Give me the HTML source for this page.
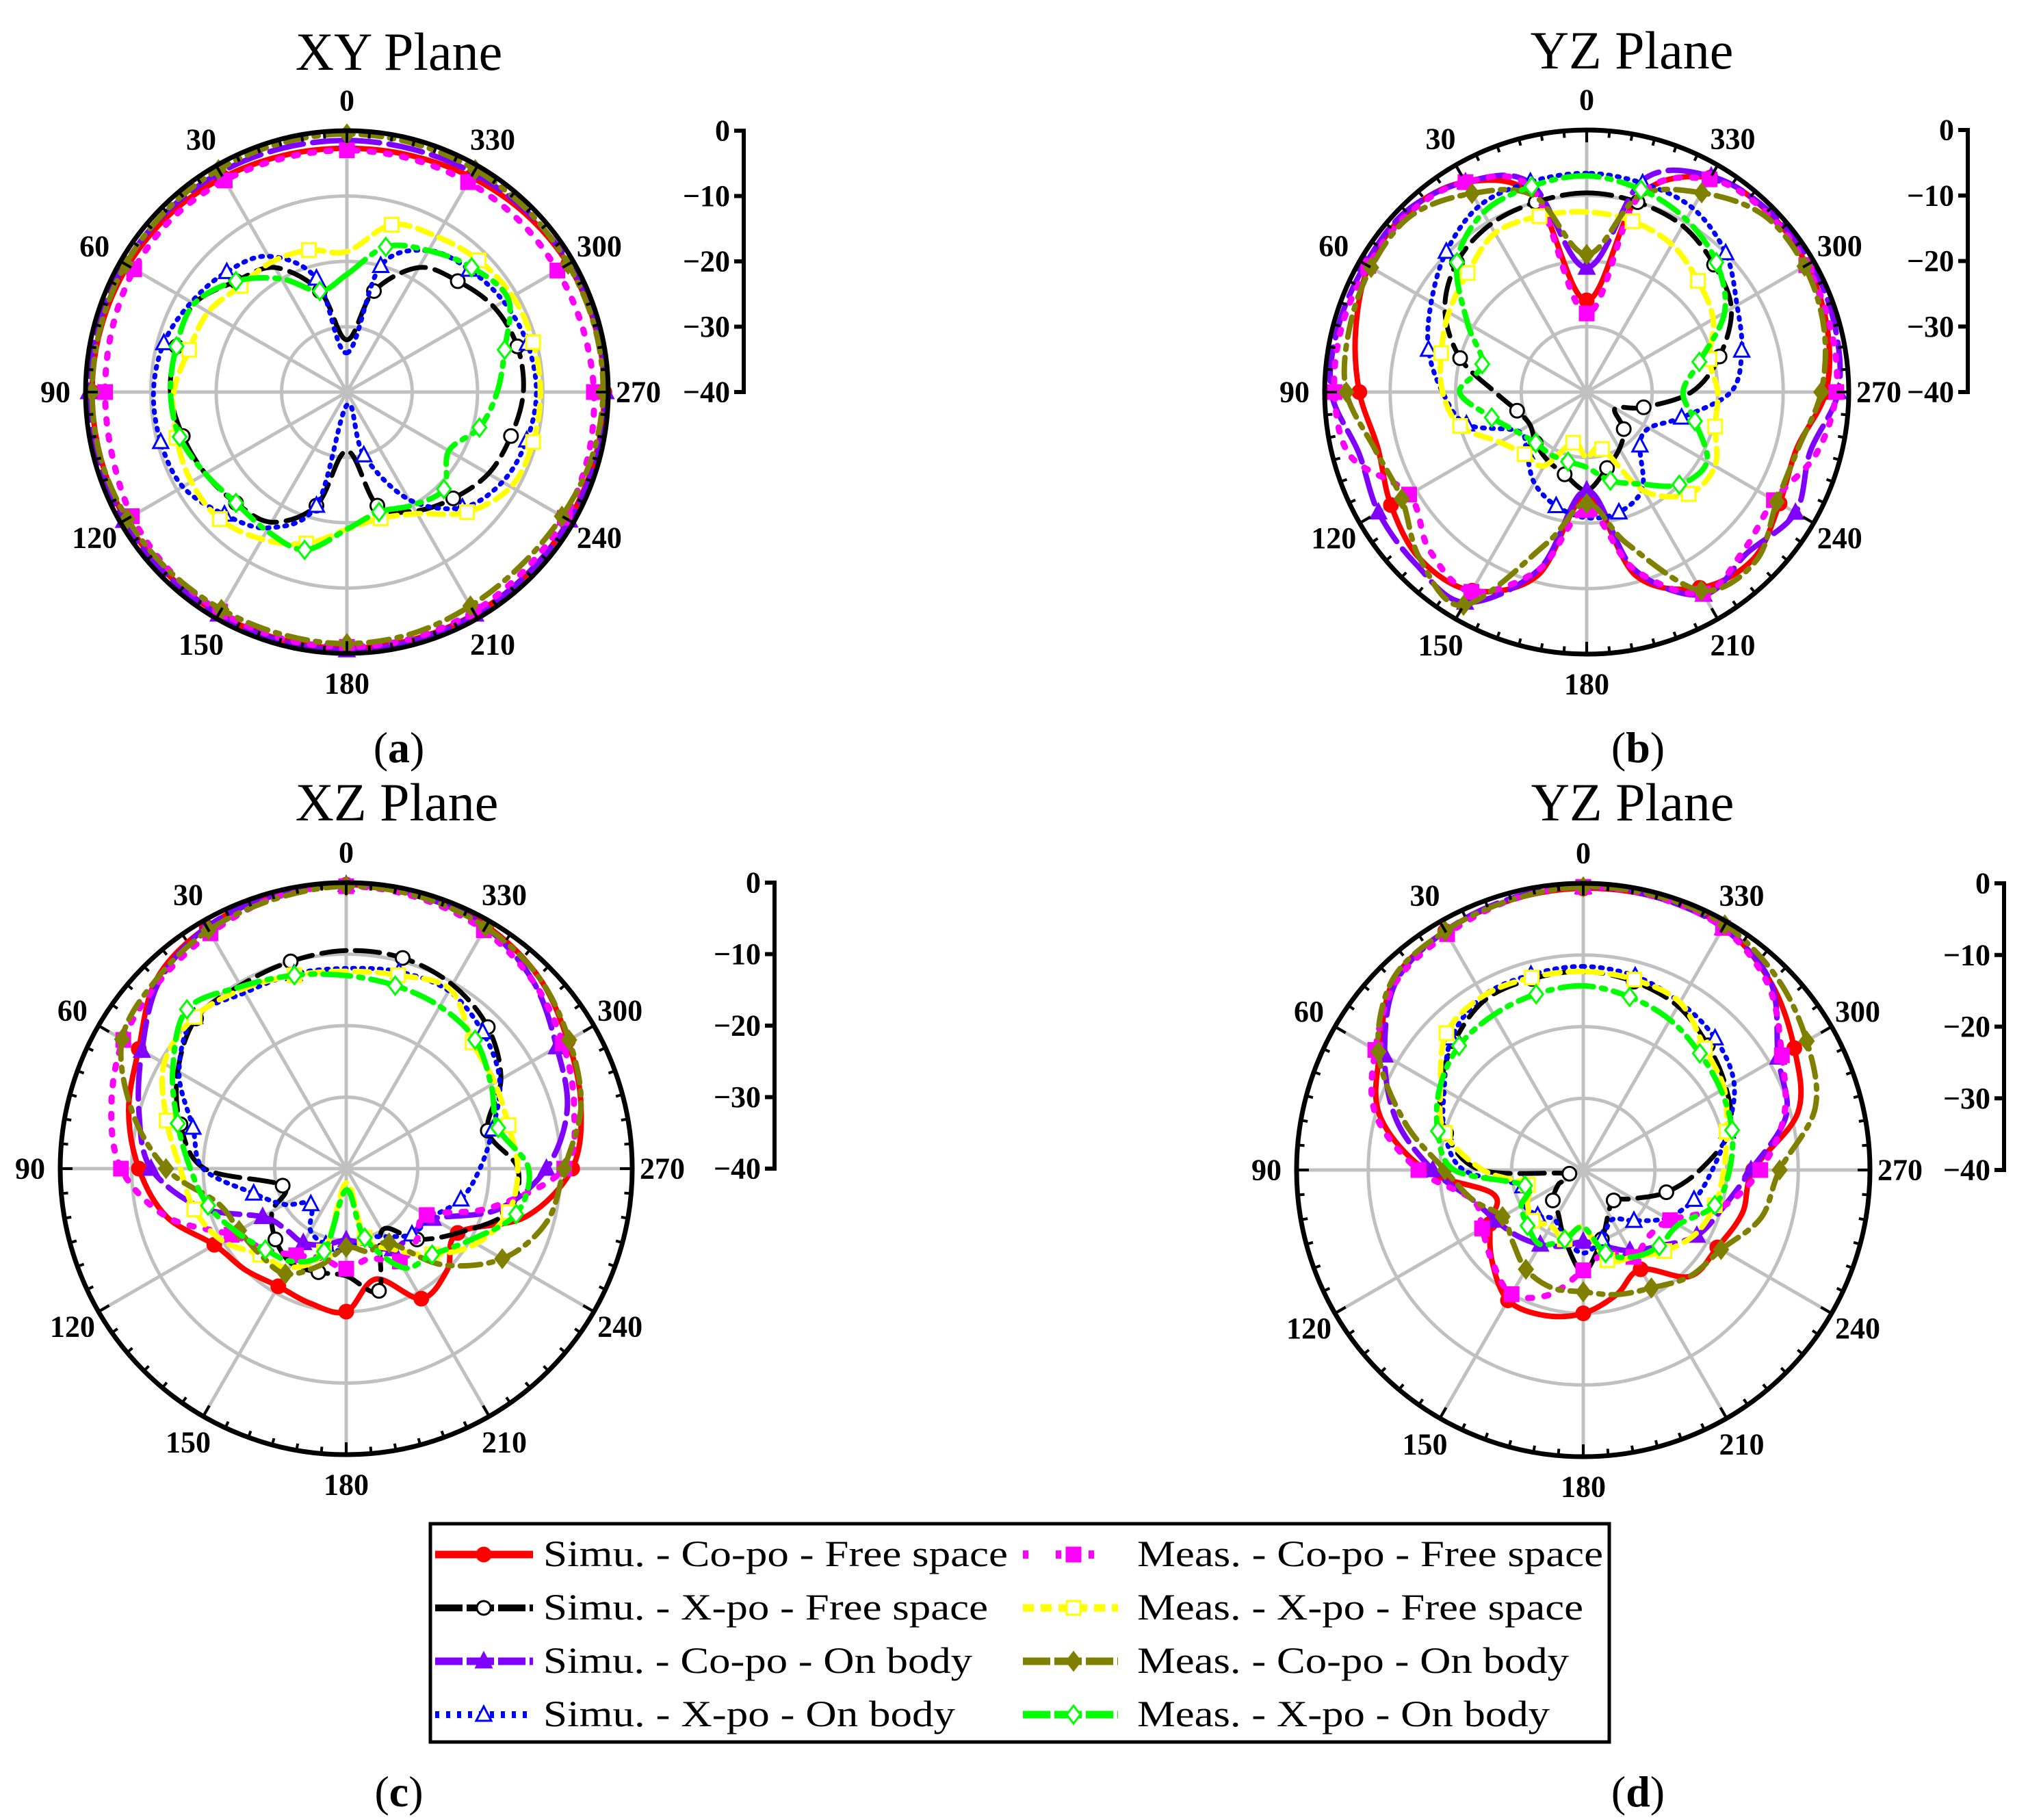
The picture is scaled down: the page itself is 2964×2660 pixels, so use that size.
<!DOCTYPE html>
<html><head><meta charset="utf-8"><style>
html,body{margin:0;padding:0;background:#fff;}
svg{display:block;}
text{font-family:"Liberation Serif",serif;}
</style></head><body>
<svg id="fig" width="2964" height="2660" viewBox="0 0 2964 2660" xmlns="http://www.w3.org/2000/svg">
<rect x="0" y="0" width="2964" height="2660" fill="#fff"/>
<g id="panels"></g>
<g id="legend">
<rect x="629" y="2227" width="1723" height="319" fill="#fff" stroke="#000" stroke-width="5"/>
</g>
</svg>
<script>
// ---- data (dB, every 15 degrees starting at 0, CCW from top) ----
const angles = [0,15,30,45,60,75,90,105,120,135,150,165,180,195,210,225,240,255,270,285,300,315,330,345];
const ringTicks = [0,-10,-20,-30,-40];
const angleLabels = [0,30,60,90,120,150,180,210,240,270,300,330];
const seriesNames = ["Simu. - Co-po - Free space","Simu. - X-po - Free space","Simu. - Co-po - On body","Simu. - X-po - On body","Meas. - Co-po - Free space","Meas. - X-po - Free space","Meas. - Co-po - On body","Meas. - X-po - On body"];
const panelTitles = ["XY Plane","YZ Plane","XZ Plane","YZ Plane"];
const panelLetters = ["a","b","c","d"];

// Panel (a) XY
const aSimCoFree = [-2.7,-2.5,-2.1,-1.6,-1.3,-1.1,-1.0,-1.0,-0.9,-0.9,-0.8,-0.8,-0.8,-0.8,-0.8,-0.8,-0.8,-0.7,-0.6,-0.7,-0.9,-1.4,-2.0,-2.5];
const aSimXFree = [-32,-24,-18,-16,-13,-13,-13,-14,-15,-16,-17,-22,-31,-22,-19,-17,-15,-14,-13,-13,-14,-16,-18,-24];
const aSimCoBody = [-1.5,-1.4,-1.2,-1,-0.8,-0.6,-0.5,-0.5,-0.6,-0.7,-0.7,-0.6,-0.5,-0.6,-0.7,-0.8,-0.7,-0.5,-0.4,-0.5,-0.7,-1,-1.3,-1.5];
const aSimXBody = [-34,-22,-16,-14,-12.5,-11,-10.4,-10.5,-11,-13.5,-16,-22,-38,-30,-21,-15,-12.5,-11.5,-11,-11.4,-12.3,-13.5,-15,-20];
const aMeasCoFree = [-3,-2.9,-2.6,-2.3,-2.4,-2.8,-3,-2.8,-2,-1.5,-1.2,-1,-1,-1,-1.2,-1.5,-1.5,-1.8,-2.2,-2.6,-2.8,-2.8,-2.9,-3];
const aMeasXFree = [-18.5,-17.5,-17,-17,-15.5,-15,-13.5,-13,-12.5,-12.5,-14,-16,-19,-20,-18.5,-14,-11,-10.5,-10.4,-10.5,-10.7,-11.5,-12.5,-13.5];
const aMeasCoBody = [-0.5,-0.6,-0.7,-0.8,-0.9,-1,-1,-1,-1.2,-1.4,-1.6,-1.6,-1.5,-1.7,-2.2,-2.4,-2,-1.2,-0.8,-0.8,-0.9,-0.8,-0.7,-0.6];
const aMeasXBody = [-22,-24,-20,-16,-13,-13,-13,-13.5,-15,-16,-15.5,-15,-19,-21,-20,-19,-22,-19,-17,-15,-11.5,-13,-15,-17];

// Panel (b) YZ
const bSimCoFree = [-26,-9,-3,-1.2,-1.6,-3.5,-5.3,-7,-5.5,-4,-5,-11,-24,-11,-5.5,-4,-6,-6.8,-3.5,-2,-1.2,-1,-2.2,-9];
const bSimXFree = [-9.6,-10,-10.5,-12,-15,-20,-26,-29,-30,-29,-28,-27,-25,-28,-30,-32,-35,-31,-24,-19,-14.5,-12.5,-10.7,-10];
const bSimCoBody = [-21,-7,-3,-1,-1,-0.8,-1,-4,-3.3,-3,-2.9,-12,-25,-12,-4.3,-5.3,-3.2,-4.7,-1.6,-0.8,-0.5,-0.8,-2,-6.4];
const bSimXBody = [-6.6,-6.8,-7.2,-9.7,-12.6,-15,-18,-21,-28,-27,-24,-22,-20.8,-21,-23,-28.5,-29,-25,-18,-15.5,-13.5,-10,-7.6,-7];
const bMeasCoFree = [-28,-8,-3,-1.5,-1.5,-1.3,-1.5,-2.6,-8.7,-6,-4.8,-12,-22,-12,-4.5,-6,-7,-3.7,-1.9,-1.5,-1.3,-1.2,-2.5,-9];
const bMeasXFree = [-12.5,-12.2,-12,-14.3,-15.7,-17,-18,-20,-24.7,-26.6,-27,-32,-30,-31,-22.6,-18,-17.4,-19.7,-20,-20.6,-17.7,-16,-14,-13];
const bMeasCoBody = [-19,-9,-5,-2,-2,-2.5,-3.3,-6.5,-7.4,-4,-2.4,-16,-23,-16,-5,-3.5,-6.5,-6.6,-4.2,-2.5,-1.6,-1.8,-4.9,-9];
const bMeasXBody = [-7,-7.5,-8.4,-12,-19,-23.5,-20.6,-25,-27.8,-29,-29,-29,-28.5,-26,-23.8,-20,-18.8,-22.9,-25.3,-22.2,-15.7,-12,-9.6,-8];

// Panel (c) XZ
const cSimCoFree = [-0.3,-0.5,-1,-2.5,-6.5,-8.5,-11,-14,-18.7,-20,-21,-20.5,-20,-24,-19,-20,-22,-14,-8.4,-6,-4.2,-2,-0.8,-0.4];
const cSimXFree = [-9.5,-10,-10.4,-10.3,-12.8,-16,-20.2,-30.8,-28,-26,-24.7,-25,-25,-22.3,-30,-26,-22,-16.6,-16,-19.5,-15,-12,-10.3,-9.5];
const cSimCoBody = [-0.3,-0.5,-1,-3,-7,-10,-12.7,-19,-26.5,-28,-28,-29,-30,-29,-27,-27,-26,-18,-12,-8,-6,-3,-1,-0.5];
const cSimXBody = [-12,-11.8,-11.6,-10,-13,-17.8,-20,-26.6,-30,-33,-30,-29,-28.4,-30,-29,-27,-26.3,-23.4,-21.3,-18.8,-15.2,-13,-11.3,-11.5];
const cMeasCoFree = [-0.5,-0.8,-2,-3,-4,-6,-8.5,-14,-21.5,-24,-26,-27,-26,-27,-25,-26,-27,-19,-9.5,-7,-5,-3,-1.5,-0.8];
const cMeasXFree = [-12.4,-12,-11,-10,-10.6,-14,-16.8,-18,-19.9,-23,-24,-28,-38,-30,-27,-23,-19,-16.5,-16,-16.5,-16,-15,-11,-12];
const cMeasCoBody = [-0.5,-1,-1.5,-2.5,-3.8,-9,-14.8,-21.4,-22.7,-23,-23,-26,-29,-28,-28,-21,-14.8,-11,-9.5,-6,-4,-2,-1,-0.6];
const cMeasXBody = [-13,-12,-10.6,-8.5,-12,-15.6,-18.2,-20,-22.3,-24,-25,-28,-37,-30,-24,-23,-20,-15.4,-14.5,-18,-16.6,-14.5,-13.8,-13.5];

// Panel (d) YZ
const dSimCoFree = [-0.7,-1,-1.5,-2.6,-7.2,-10.6,-18,-27,-25,-22,-19,-19,-20,-22,-24,-19,-18.4,-17,-16.3,-9,-6,-3,-0.8,-0.6];
const dSimXFree = [-12.3,-12.4,-12.6,-14.6,-17,-20.2,-25.7,-38,-36,-34,-33,-30,-25.7,-30,-33,-34,-32,-28,-23.7,-18.8,-17,-15.4,-13.6,-12.8];
const dSimCoBody = [-0.5,-0.8,-1.5,-3,-8,-13,-19,-24,-25.9,-27,-28,-29,-30,-29,-27,-25,-21.7,-19.8,-16.6,-10.7,-8.6,-3,-1,-0.6];
const dSimXBody = [-11.6,-11.8,-12,-14,-17.6,-20,-23.3,-31.3,-30.4,-31,-32,-30,-28.4,-30,-32,-30,-26.6,-24,-22,-19.2,-15.7,-14,-13,-12];
const dMeasCoFree = [-0.5,-1,-2,-3,-6.5,-10,-17,-24,-23.7,-22,-20,-22,-26,-28,-26,-27,-26,-20,-15.3,-11,-8,-3.5,-1,-0.6];
const dMeasXFree = [-12.3,-12.2,-12,-13,-17,-20,-26,-32,-31,-30,-31,-30,-32,-27,-26,-24,-22,-21,-20.4,-19.3,-17.3,-16,-13,-12.5];
const dMeasCoBody = [-0.5,-1,-1.5,-2.4,-7,-14.2,-20.7,-24,-27,-26,-24,-23,-23,-22,-21,-19,-17.8,-14.3,-12.6,-6.5,-4,-1.9,-0.5,-0.4];
const dMeasXBody = [-14.3,-14.6,-15,-15.5,-16.9,-19,-22,-31.6,-30,-29,-28,-30,-32,-28,-26,-25,-24.7,-21,-19.6,-18.5,-17.8,-17,-15.8,-15];

// ---- layout / styles (not data) ----
const panelData = [
  [aSimCoFree,aSimXFree,aSimCoBody,aSimXBody,aMeasCoFree,aMeasXFree,aMeasCoBody,aMeasXBody],
  [bSimCoFree,bSimXFree,bSimCoBody,bSimXBody,bMeasCoFree,bMeasXFree,bMeasCoBody,bMeasXBody],
  [cSimCoFree,cSimXFree,cSimCoBody,cSimXBody,cMeasCoFree,cMeasXFree,cMeasCoBody,cMeasXBody],
  [dSimCoFree,dSimXFree,dSimCoBody,dSimXBody,dMeasCoFree,dMeasXFree,dMeasCoBody,dMeasXBody]
];
const layout = [
  {cx:507, cy:573, r:382, bar:1087, tx:583, ty:102, lx:583, ly:1114},
  {cx:2319, cy:573, r:383, bar:2876, tx:2385, ty:100, lx:2394, ly:1114},
  {cx:506, cy:1708, r:418, bar:1132, tx:580, ty:1199, lx:583, ly:2640},
  {cx:2314, cy:1710, r:419, bar:2929, tx:2386, ty:1199, lx:2394, ly:2640}
];
const styles = [
  {c:"#ff0000", w:8, d:"", m:"circle", f:true},
  {c:"#000000", w:7, d:"36 14", m:"circle", f:false},
  {c:"#7f00ff", w:8, d:"50 14", m:"tri", f:true},
  {c:"#0000ff", w:7, d:"3 10", m:"tri", f:false},
  {c:"#ff00ff", w:9, d:"6 18", m:"square", f:true},
  {c:"#ffff00", w:8, d:"22 12", m:"square", f:false},
  {c:"#808000", w:8, d:"30 12 6 12", m:"diamond", f:true},
  {c:"#00ff00", w:8, d:"34 12 6 12", m:"diamond", f:false}
];
const NS = "http://www.w3.org/2000/svg";
function mk(tag, attrs, parent){ const e=document.createElementNS(NS,tag); for(const k in attrs) e.setAttribute(k,attrs[k]); parent.appendChild(e); return e; }
function rScale(db, R){ return R*Math.max(0,(db+40))/40; }
function toXY(angDeg, rad, L){ const t=angDeg*Math.PI/180; return [L.cx - rad*Math.sin(t), L.cy - rad*Math.cos(t)]; }
function marker(g, st, x, y){
  const fill = st.f ? st.c : "#fff";
  let e;
  if(st.m==="circle") e=mk("circle",{cx:x,cy:y,r:10,fill:fill,stroke:st.c,"stroke-width":3},g);
  else if(st.m==="square") e=mk("rect",{x:x-10,y:y-10,width:20,height:20,fill:fill,stroke:st.c,"stroke-width":3},g);
  else if(st.m==="tri") e=mk("polygon",{points:`${x},${y-12} ${x-11},${y+9} ${x+11},${y+9}`,fill:fill,stroke:st.c,"stroke-width":3},g);
  else e=mk("polygon",{points:`${x},${y-13} ${x-10},${y} ${x},${y+13} ${x+10},${y}`,fill:fill,stroke:st.c,"stroke-width":3},g);
  
  
}
const root = document.getElementById("panels");
layout.forEach((L,pi)=>{
  const g = mk("g",{},root);
  
  
  ringTicks.slice(1,4).forEach(v=>{
    const c=mk("circle",{cx:L.cx,cy:L.cy,r:rScale(v,L.r),fill:"none",stroke:"#c0c0c0","stroke-width":5},g);
    
    
  });
  for(let a=0;a<180;a+=30){
    const p1=toXY(a,L.r,L), p2=toXY(a+180,L.r,L);
    const s=mk("line",{x1:p1[0],y1:p1[1],x2:p2[0],y2:p2[1],stroke:"#c0c0c0","stroke-width":5},g);
    
    
  }
  panelData[pi].forEach((vals,si)=>{
    const st=styles[si];
    const sg=mk("g",{},g);
    
    
    const pts=vals.map((v,i)=>toXY(angles[i],rScale(v,L.r),L));
    const n=pts.length;
    let d=`M${pts[0][0].toFixed(1)},${pts[0][1].toFixed(1)}`;
    for(let i=0;i<n;i++){
      const p0=pts[(i-1+n)%n],p1=pts[i],p2=pts[(i+1)%n],p3=pts[(i+2)%n];
      const c1=[p1[0]+(p2[0]-p0[0])/6,p1[1]+(p2[1]-p0[1])/6];
      const c2=[p2[0]-(p3[0]-p1[0])/6,p2[1]-(p3[1]-p1[1])/6];
      d+=` C${c1[0].toFixed(1)},${c1[1].toFixed(1)} ${c2[0].toFixed(1)},${c2[1].toFixed(1)} ${p2[0].toFixed(1)},${p2[1].toFixed(1)}`;
    }
    const path=mk("path",{d:d+"Z",fill:"none",stroke:st.c,"stroke-width":st.w,"stroke-dasharray":st.d,"stroke-linecap":"round","stroke-linejoin":"round"},sg);
    
    
    pts.forEach((p,i)=>{ if(i%2===(si%2)) marker(sg,st,p[0],p[1]); });
  });
  const oc=mk("circle",{cx:L.cx,cy:L.cy,r:L.r,fill:"none",stroke:"#000","stroke-width":7},g);
  
  
  for(let a=0;a<360;a+=5){
    const len = a%30===0?18:10;
    const p1=toXY(a,L.r,L), p2=toXY(a,L.r-len,L);
    const t=mk("line",{x1:p1[0],y1:p1[1],x2:p2[0],y2:p2[1],stroke:"#000","stroke-width":4},g);
    
    
  }
  angleLabels.forEach(a=>{
    const p=toXY(a,L.r+44,L);
    const t=mk("text",{x:p[0],y:p[1],"text-anchor":"middle","dominant-baseline":"central","font-size":44,"font-weight":"bold"},g);
    t.textContent=String(a);
    
    
  });
  const top=L.cy-L.r;
  const bar=mk("line",{x1:L.bar,y1:top,x2:L.bar,y2:L.cy,stroke:"#000","stroke-width":6},g);
  
  
  ringTicks.forEach(v=>{
    const y=L.cy-rScale(v,L.r);
    const tk=mk("line",{x1:L.bar-14,y1:y,x2:L.bar+3,y2:y,stroke:"#000","stroke-width":6},g);
    
    
    const tl=mk("text",{x:L.bar-20,y:y,"text-anchor":"end","dominant-baseline":"central","font-size":44,"font-weight":"bold"},g);
    tl.textContent = v===0 ? "0" : "\u2212"+Math.abs(v);
    
    
  });
  const title=mk("text",{x:L.tx,y:L.ty,"text-anchor":"middle","font-size":78},g);
  title.textContent=panelTitles[pi];
  
  
  const lab=mk("text",{x:L.lx,y:L.ly,"text-anchor":"middle","font-size":64},g);
  
  
  const t1=mk("tspan",{},lab); t1.textContent="(";
  const t2=mk("tspan",{"font-weight":"bold"},lab); t2.textContent=panelLetters[pi];
  const t3=mk("tspan",{},lab); t3.textContent=")";
});
const leg=document.getElementById("legend");
const rowsY=[2272,2350,2428,2506];
const textEnds=[1473,1444,1421,1396,2343,2314,2293,2265];
seriesNames.forEach((nm,si)=>{
  const st=styles[si];
  const col=si<4?0:1, row=si%4;
  const x0=col===0?636:1495, x1=col===0?779:1634, xm=col===0?707:1569, tx=col===0?794:1662;
  const y=rowsY[row];
  const eg=mk("g",{},leg);
  
  
  const ln=mk("line",{x1:x0,y1:y,x2:x1,y2:y,stroke:st.c,"stroke-width":st.w+3,"stroke-dasharray":st.d?"40 6":"","stroke-linecap":"butt"},eg);
  if(si===3) ln.setAttribute("stroke-dasharray","6 10");
  if(si===4) ln.setAttribute("stroke-dasharray","8 40");
  if(si===5) ln.setAttribute("stroke-dasharray","16 10");
  
  
  marker(eg,st,xm,y);
  const t=mk("text",{x:tx,y:y+17,"font-size":54,textLength:textEnds[si]-tx,lengthAdjust:"spacingAndGlyphs"},eg);
  t.textContent=nm;
  
  
});
</script>
</body></html>
